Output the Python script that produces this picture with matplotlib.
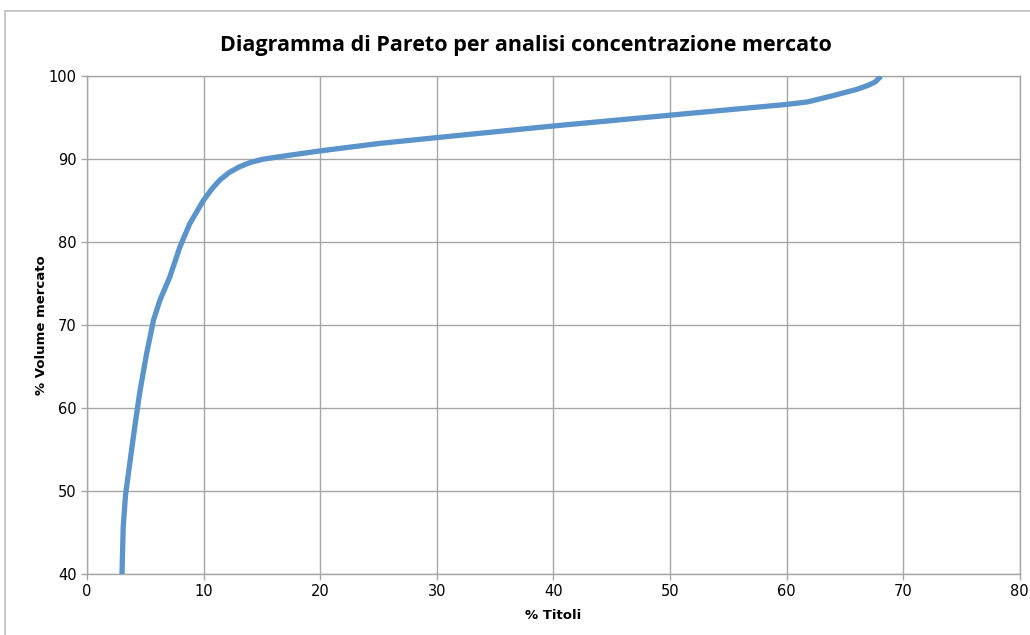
import matplotlib
matplotlib.use("Agg")
import matplotlib.pyplot as plt
from matplotlib.patches import Rectangle

# values
pct_titoli = [3.0, 3.1, 3.3, 3.7, 4.1, 4.5, 5.1, 5.7, 6.25, 7.1, 7.96, 8.8,
              9.97, 10.7, 11.4, 12.2, 13.1, 14.0, 15.1, 17.5, 20.0, 25.1,
              30.0, 40.0, 50.0, 55.0, 60.0, 61.8, 64.1, 66.0, 67.0, 67.6, 68.1]
pct_volume = [40.0, 45.6, 49.5, 53.7, 57.8, 61.7, 66.5, 70.6, 73.0, 75.8, 79.4,
              82.2, 85.0, 86.4, 87.5, 88.4, 89.1, 89.6, 90.0, 90.5, 91.0, 91.9,
              92.6, 94.0, 95.3, 95.95, 96.6, 96.9, 97.7, 98.4, 98.9, 99.3, 100.0]

x_ticks = [0, 10, 20, 30, 40, 50, 60, 70, 80]
y_ticks = [40, 50, 60, 70, 80, 90, 100]

title = "Diagramma di Pareto per analisi concentrazione mercato"
x_label = "% Titoli"
y_label = "% Volume mercato"

line_color = "#5b94cb"
grid_color = "#a6a6a6"
font = ["Liberation Sans Narrow", "DejaVu Sans"]

fig = plt.figure(figsize=(10.3, 6.35), dpi=100)
ax = fig.add_axes([0.0845, 0.096, 0.9055, 0.784])

ax.plot(pct_titoli, pct_volume, color=line_color, lw=3.8,
        solid_joinstyle="round", solid_capstyle="butt", zorder=3)

ax.set_xlim(0, 80)
ax.set_ylim(40, 100)
ax.set_xticks(x_ticks)
ax.set_yticks(y_ticks)
ax.grid(True, color=grid_color, lw=1.0)
ax.set_axisbelow(True)

for side, sp in ax.spines.items():
    sp.set_color(grid_color)
    sp.set_linewidth(1.0)

ax.tick_params(axis="both", colors=grid_color, length=4, width=1.0,
               labelcolor="black", labelsize=10.5)
for lab in ax.get_xticklabels() + ax.get_yticklabels():
    lab.set_family(font)

# title centred on the chart area, not the plot area (as in Excel)
fig.text(526 / 1030, 1 - 45 / 635, title, fontsize=15.5, fontweight="bold",
         family=["Open Sans", "DejaVu Sans"], ha="center", va="center")
ax.set_xlabel(x_label, fontsize=9.5, fontweight="bold", family=font, labelpad=7)
ax.set_ylabel(y_label, fontsize=9.5, fontweight="bold", family=font)
ax.yaxis.set_label_coords(-0.042, 0.5)

# outer chart border (Excel chart area frame, cut off at right/bottom)
fig.add_artist(Rectangle((5 / 1030, -0.05), 1.2, (635 - 11) / 635 + 0.05,
                         transform=fig.transFigure, fill=False,
                         edgecolor="#bfbfbf", lw=1.2))

fig.savefig("out.png", dpi=100)
